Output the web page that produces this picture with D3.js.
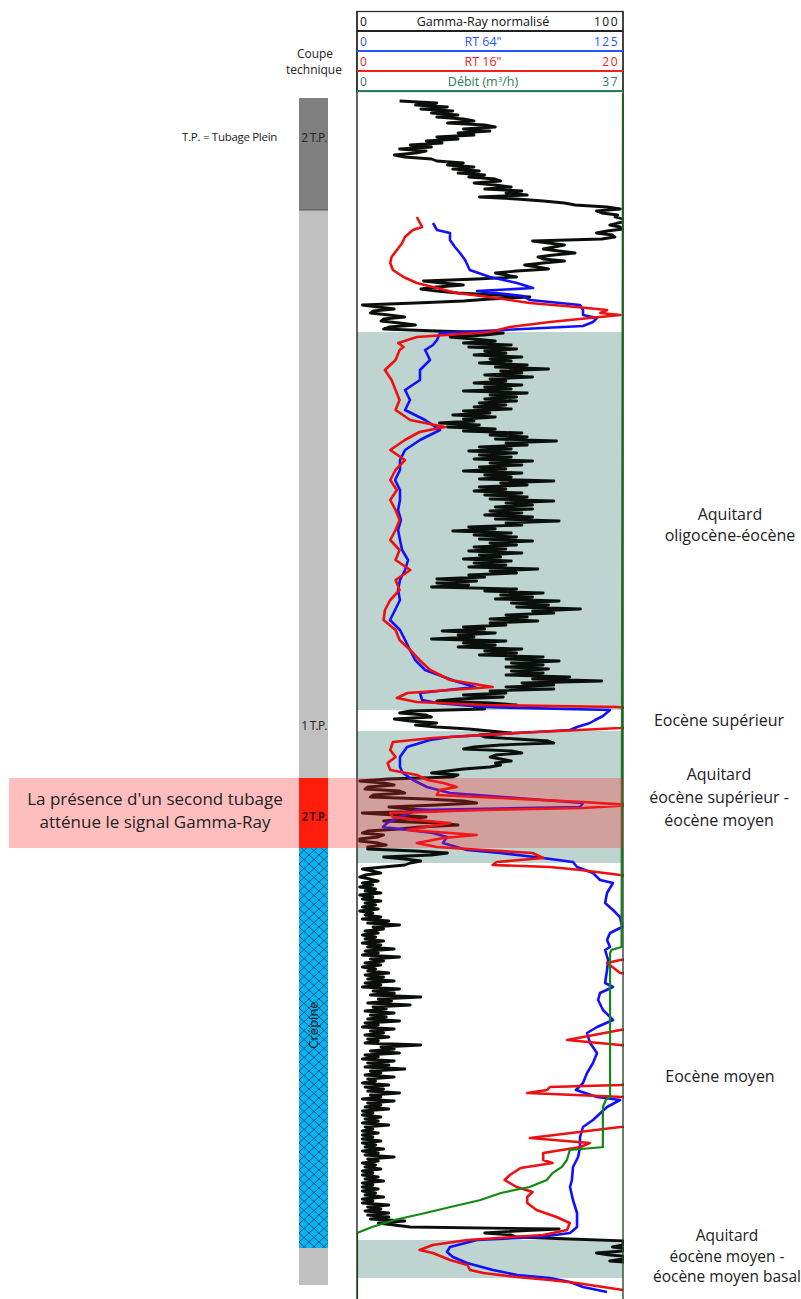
<!DOCTYPE html>
<html><head><meta charset="utf-8">
<script src="https://cdn.jsdelivr.net/npm/d3@7"></script>
<style>
body{margin:0;background:#fff}
svg{display:block}
text{font-family:"Open Sans",sans-serif}
</style>
</head><body>
<svg id="chart" width="801" height="1299"></svg>
<script>
// ---------------- DATA ----------------
const depthDomain = [0, 301.5];   // m

// log tracks (header)
const trackNames  = ["Gamma-Ray normalisé", "RT 64\"", "RT 16\"", "Débit (m³/h)"];
const trackMin    = [0, 0, 0, 0];
const trackMax    = [100, 125, 20, 37];
const trackColors = ["#111111", "#2855ff", "#ee2222", "#2c7a5c"];

// Gamma-Ray normalisé, sampled every 0.5 m from 2 m (rows = 5 m)
const grStartDepth = 2, grStep = 0.5;
const grValues = [
 16,30,22,34,24,36,28,38,30,40,   // 2
 44,34,48,52,40,50,38,44,30,38,   // 7
 26,32,20,28,16,26,22,14,18,28,   // 12
 30,40,34,44,36,46,38,48,42,52,   // 17
 54,44,52,58,48,62,56,64,46,60,   // 22
 70,78,82,94,99,90,92,98,97,100,  // 27
 102,98,95,99,100,94,90,96,97,92, // 32
 66,72,78,74,70,76,82,74,68,70,   // 37
 78,70,63,68,72,60,52,56,60,45,   // 42
 25,32,40,30,24,30,38,52,65,50,   // 47
 40,22,2,8,14,6,5,12,18,10,       // 52
 9,16,22,12,10,30,55,48,35,44,    // 57
 52,40,58,42,60,48,56,44,62,50,   // 62
 58,46,64,52,72,54,62,48,66,50,   // 67
 56,44,62,48,58,40,64,50,60,48,   // 72
 60,46,56,44,58,40,50,36,52,40,   // 77
 44,31,46,34,52,40,62,50,64,52,   // 82
 75,56,64,46,58,42,60,46,58,44,   // 87
 66,50,62,46,56,40,62,48,58,46,   // 92
 74,54,64,46,56,44,62,48,64,50,   // 97
 74,56,66,52,66,50,62,48,66,52,   // 102
 76,56,62,42,52,36,58,44,60,46,   // 107
 66,50,60,44,56,42,62,46,54,40,   // 112
 58,44,56,42,68,50,60,42,48,30,   // 117
 45,30,42,28,60,48,70,54,66,52,   // 122
 76,58,72,60,84,66,74,56,64,50,   // 127
 68,50,56,40,48,32,52,38,44,28,   // 132
 56,40,52,38,62,48,60,46,70,56,   // 137
 76,58,70,56,72,58,70,56,80,66,   // 142
 92,62,74,56,74,50,56,40,55,38,   // 147
 30,50,60,44,48,20,16,26,28,14,   // 152
 20,30,22,30,42,50,58,46,48,60,   // 157
 72,74,54,44,40,58,62,52,50,54,   // 162
 58,52,54,50,40,34,28,38,36,12,   // 167
 1,10,14,4,3,16,18,6,5,26,        // 172
 40,45,30,12,20,30,2,14,26,18,    // 177
 10,30,38,24,16,4,2,10,8,1,       // 182
 1,8,11,4,4,22,34,28,10,18,       // 187
 24,20,18,10,2,6,9,3,1,5,         // 192
 8,2,6,1,7,3,9,1,6,2,             // 197
 9,3,7,2,8,1,6,3,9,2,             // 202
 12,4,16,6,10,3,8,2,7,3,          // 207
 10,2,9,4,14,3,8,2,16,5,          // 212
 10,3,9,2,7,4,12,3,10,4,          // 217
 14,3,9,2,16,6,14,5,24,8,         // 222
 13,4,20,6,11,3,14,5,11,4,        // 227
 16,3,8,2,14,5,10,3,12,4,         // 232
 8,3,24,9,14,5,16,3,8,2,          // 237
 14,4,12,3,18,5,9,3,14,4,         // 242
 7,2,12,3,10,4,16,5,9,2,          // 247
 14,4,9,3,12,2,6,2,9,3,           // 252
 8,2,12,3,6,2,8,2,6,2,            // 257
 9,2,7,3,10,2,8,3,14,4,           // 262
 8,2,7,3,9,2,6,2,8,3,             // 267
 10,2,6,2,8,2,7,3,10,2,           // 272
 6,2,12,4,9,3,12,4,12,5,          // 277
 18,8,14,20,76,60,48,58,60,80,    // 282
 102,100,100,96,102,100,90,95,104,100, // 287
 95,105                           // 292
];

// RT 64" : [depth m, ohm.m]
const rt64 = [
 [32.5,35.7],[34.25,37.6],[35,43.7],[36.75,43.7],[38.5,46],[40,48.4],[41.75,50.8],[44.25,53],
 [46,62.5],[47.5,75.2],[48.75,82.7],[49.5,56.4],[50.75,78],[51.75,81.3],[53,104.8],[54.25,106.2],
 [55.5,106.2],[56.25,112.8],[57.25,110.9],[58.25,106.2],[59.25,68.6],[60,39],[61.75,37.6],[63,35.7],
 [64.25,32],[66.75,34.3],[69.25,29.6],[71.75,29.6],[74.25,22.6],[76.75,24.9],[79.25,22.6],[81.75,32],
 [84.25,39],[86.75,29.6],[89.25,22.6],[91.75,20.2],[94.25,20.2],[96.75,17.9],[99.25,20.2],[101.75,20.2],
 [104.25,19.3],[106.75,20.7],[109.25,19.3],[111.75,20.2],[114.25,21.2],[116.75,24],[119.25,22.6],[121.75,20.2],
 [124.25,19.3],[126.75,20.2],[129.25,17.9],[131.75,15.5],[134.25,20.2],[136.75,22.6],[139.25,24.9],[141.75,27.3],
 [144.25,32],[147,46],[148.5,55.5],[150,29.6],[151.75,30.6],[152.5,37.6],[153.5,59.2],[154.25,118.9],
 [155.75,115.6],[156.75,111.9],[157.5,109.5],[158.5,103.4],[159.25,100.1],[160,75.2],[161,43.7],[161.75,34.3],
 [163.5,23.5],[166,20.2],[168.5,20.2],[170,21.6],[171.75,26.3],[173.5,32.9],[175,43.7],[176.25,75.2],
 [177.5,106.2],[178.5,104.8],[179.25,28.2],[181,20.2],[182.5,14.1],[183.5,12.2],[185,35.7],[186,42.3],
 [187.5,40.4],[189.25,51.7],[190,67.2],[191.25,87.4],[192.25,101.5],[193.5,103.4],[195,110.9],[196.75,114.2],
 [197.5,120.3],[200,117.5],[202.5,116.6],[204.25,120.3],[206,123.6],[208.5,124.6],[210,118.9],[211.75,117.5],
 [213.5,118.9],[214.25,116.6],[216.75,118],[219.25,117.5],[222.5,116.6],[223.5,120.3],[225,114.2],[226.75,113.3],
 [229.25,115.6],[231.75,120.3],[233.5,112.8],[235,108.1],[237.5,109.5],[240,112.8],[242.5,110.9],[245,108.1],
 [247.5,106.2],[249.25,102.9],[251,112.8],[251.75,123.6],[253.5,117.5],[256.75,110.9],[258.5,106.2],[261,104.8],
 [263.5,104.8],[266,103.9],[268.5,101.5],[271.75,101],[273.5,100.1],[276.75,101.5],[280,103.4],[283.5,103.4],
 [285,100.1],[286,86],[286.75,56.4],[288.5,43.7],[289.75,42.3],[291,45.1],[292.5,51.7],[294.25,63.9],
 [295.5,75.2],[296.25,90.7],[297.25,100.1],[298.5,106.2],[299.75,117.5]
];

// RT 16" : [depth m, ohm.m]  (values above 20 run off the track)
const rt16 = [
 [31,4.5],[33.5,4.9],[34.25,4.2],[36,3.6],[37.5,3.4],[39.25,3.0],[41,2.6],[42.5,2.5],
 [44.25,2.7],[46,3.5],[47.5,4.5],[48.75,6.0],[50,7.5],[51.25,10.5],[52.5,13.0],[53.5,16.5],
 [54.25,18.8],[55,18.3],[55.5,19.8],[56.25,17.5],[57.25,14.5],[58.5,11.5],[59.75,10.0],[61,4.5],
 [62.5,3.1],[63.5,3.5],[64.25,3.2],[66.75,2.9],[69.25,2.1],[71.75,2.6],[74.25,2.9],[76.75,3.2],
 [79.25,2.9],[81.75,4.0],[83.5,6.6],[84.75,4.7],[86.75,3.6],[89.25,2.5],[91.75,3.6],[94.25,2.9],
 [96.75,2.5],[99.25,3.0],[101.75,2.5],[104.25,2.9],[106.75,3.2],[109.25,2.9],[111.75,2.5],[114.25,3.2],
 [116.75,2.9],[119.25,4.0],[121.75,2.9],[124.25,3.2],[126.75,2.5],[129.25,2.1],[131.75,2.0],[134.25,2.9],
 [136.75,3.2],[139.25,4.0],[141.75,4.7],[144.25,5.5],[146.75,7.0],[148.5,10.2],[150,3.8],[151.25,3.0],
 [152.25,4.5],[153,9.5],[153.5,19.6],[154.75,23],[158,23],[158.75,19.8],[160,12.0],[161.25,5.7],
 [162.25,2.7],[164.25,2.5],[166,2.9],[167.5,2.3],[169.25,2.5],[170.5,4.5],[171.75,5.3],[172.5,6.5],
 [173.5,7.5],[174.25,6.2],[175.5,6.0],[176.25,10.8],[177.25,17.0],[178,20.5],[178.75,17.0],[179.25,9.5],
 [180,2.5],[181,2.7],[181.75,4.5],[182.5,7.0],[184.25,3.8],[185,7.0],[185.5,9.0],[186.25,6.5],
 [187.5,4.5],[188.5,6.0],[189.25,9.5],[190,13.2],[191.25,14.0],[192.25,10.5],[193,10.2],[193.5,14.5],
 [194.25,16.8],[195.5,19.8],[196.75,24],[215.5,24],[216.75,19.8],[217.5,18.8],[218.5,19.2],[220,19.8],
 [221.25,24],[233,24],[234.25,19.8],[236.75,15.8],[238,19.8],[239.25,24],[246.75,24],[248,19.8],
 [248.5,14.5],[249.25,14.3],[250,12.8],[251,20.0],[251.75,24],[257.5,24],[258.5,19.8],[261.25,13.0],
 [262.5,17.5],[263.5,16.8],[265,14.0],[266.75,14.0],[267.5,14.7],[268.75,12.3],[270.5,11.5],[271.75,11.1],
 [273.5,12.0],[274.75,13.2],[276,12.8],[277.5,12.8],[279.25,13.5],[281,15.0],[282.5,16.0],[284.25,15.8],
 [285.5,14.0],[286.75,8.3],[288,5.7],[289.25,4.7],[290,5.7],[291.75,7.0],[293,8.3],[294.25,8.5],
 [295,9.5],[296,12.0],[296.75,14.5],[297.5,16.5],[298.5,18.5],[299.25,20.0]
];

// Débit (m3/h) : [depth m, m3/h]
const debit = [
 [0,37],[213.5,36.8],[214.25,35.4],[215,35.2],[251,35.2],[251.75,34.6],[253.5,34.2],[263.5,34.2],
 [263.75,32.8],[264.25,29.6],[266.75,29.2],[268.5,28.5],[270,27.2],[271.75,26.4],[273.5,24.0],[275,20.0],
 [276.75,17.2],[278.5,13.0],[280,9.5],[281.75,5.2],[283.5,2.1],[285,0],[301.5,0]
];

// hydrogeological units [top m, bottom m]
const aquitardTops    = [59.75, 159.5, 286.75];
const aquitardBottoms = [154.25, 192.5, 296.25];

// unit labels
const unitLabels = [
 ["Aquitard", "oligocène-éocène"],
 ["Eocène supérieur"],
 ["Aquitard", "éocène supérieur -", "éocène moyen"],
 ["Eocène moyen"],
 ["Aquitard", "éocène moyen -", "éocène moyen basal"]
];
const unitLabelDepths = [108, 156.75, 176, 245.75, 290.75];

// coupe technique (well completion)
const casingTops    = [1.25, 29.25, 171.25, 188.75, 288.75];
const casingBottoms = [29.25, 171.25, 188.75, 288.75, 298];
const casingKinds   = ["tp2", "tp1", "tp2red", "crepine", "tp1"];
const casingLabels  = ["2 T.P.", "1 T.P.", "2 T.P.", "Crépine", ""];
const casingLabelDepths = [11, 158, 180.8, 233, 0];

// annotated interval (second casing)
const noteTop = 171.25, noteBottom = 188.75;
const noteLines = ["La présence d'un second tubage", "atténue le signal Gamma-Ray"];

// ---------------- DRAWING ----------------
const svg = d3.select("#chart");
const trackL = 357, trackR = 623, trackTop = 93, H = 1299;
const y = d3.scaleLinear().domain(depthDomain).range([trackTop, H]);
const xs = trackMax.map((m, i) => d3.scaleLinear().domain([trackMin[i], m]).range([trackL, trackR]));

const defs = svg.append("defs");
defs.append("clipPath").attr("id", "trk").append("rect")
  .attr("x", trackL).attr("y", trackTop).attr("width", trackR - trackL + 1).attr("height", H - trackTop);
const pat = defs.append("pattern").attr("id", "hatch").attr("patternUnits", "userSpaceOnUse")
  .attr("width", 10).attr("height", 9).attr("x", 299).attr("y", 0);
pat.append("rect").attr("width", 10).attr("height", 9).attr("fill", "#0ab4f2");
pat.append("path").attr("d", "M0,0L10,9M10,0L0,9").attr("stroke", "#1c3d66").attr("stroke-width", 0.8);

// aquitard zones
svg.append("g").selectAll("rect").data(aquitardTops).join("rect")
  .attr("x", trackL).attr("width", trackR - trackL)
  .attr("y", d => y(d)).attr("height", (d, i) => y(aquitardBottoms[i]) - y(d))
  .attr("fill", "#bdd4d0");

// coupe technique column
const colX = 299, colW = 29;
const kindFill = {tp2: "#808080", tp1: "#c0c0c0", tp2red: "#ff1a00", crepine: "url(#hatch)"};
const cg = svg.append("g");
cg.selectAll("rect").data(casingTops).join("rect")
  .attr("x", colX).attr("width", colW)
  .attr("y", d => y(d)).attr("height", (d, i) => y(casingBottoms[i]) - y(d))
  .attr("fill", (d, i) => kindFill[casingKinds[i]]);
cg.append("line").attr("x1", colX).attr("x2", colX + colW).attr("y1", y(casingBottoms[0])).attr("y2", y(casingBottoms[0]))
  .attr("stroke", "#444").attr("stroke-width", 0.8);
casingLabels.forEach((t, i) => {
  if (!t) return;
  const cx = colX + colW / 2, cy = y(casingLabelDepths[i]);
  const tx = cg.append("text").text(t).attr("text-anchor", "middle").attr("font-size", 12)
    .attr("fill", "#222").attr("letter-spacing", "-0.8");
  if (casingKinds[i] === "crepine") {
    tx.attr("transform", `translate(${cx + 4},${cy}) rotate(-90)`).attr("font-size", 13).attr("letter-spacing", 0);
  } else {
    tx.attr("x", cx + 0.5).attr("y", cy + 4.5);
    if (casingKinds[i] === "tp2red") tx.attr("font-weight", "bold").attr("fill", "#000").attr("font-size", 11.5);
  }
});

// curves
const cl = svg.append("g").attr("clip-path", "url(#trk)");
const line = (sx) => d3.line().x(d => sx(d[1])).y(d => y(d[0]));
const grData = grValues.map((v, i) => [grStartDepth + i * grStep, v]);
cl.append("path").datum(grData).attr("d", line(xs[0])).attr("fill", "none")
  .attr("stroke", "#0b0f0b").attr("stroke-width", 2.8).attr("stroke-linejoin", "round");
cl.append("path").datum(rt64).attr("d", line(xs[1])).attr("fill", "none")
  .attr("stroke", "#1010ff").attr("stroke-width", 2.6).attr("stroke-linejoin", "round");
cl.append("path").datum(rt16).attr("d", line(xs[2])).attr("fill", "none")
  .attr("stroke", "#ee1010").attr("stroke-width", 2.6).attr("stroke-linejoin", "round");
cl.append("path").datum(debit).attr("d", line(xs[3])).attr("fill", "none")
  .attr("stroke", "#108a10").attr("stroke-width", 2.2);

// track borders
svg.append("line").attr("x1", trackL).attr("x2", trackL).attr("y1", 11).attr("y2", H).attr("stroke", "#222").attr("stroke-width", 1.4);
svg.append("line").attr("x1", trackR).attr("x2", trackR).attr("y1", 11).attr("y2", H).attr("stroke", "#2b4a30").attr("stroke-width", 1.4);

// header
const hg = svg.append("g");
hg.append("rect").attr("x", trackL).attr("y", 11.5).attr("width", trackR - trackL).attr("height", 80)
  .attr("fill", "none").attr("stroke", "#222").attr("stroke-width", 1.2);
const rowLineColors = ["#222", "#2855ff", "#ee2222", "#2c7a5c"];
trackNames.forEach((n, i) => {
  const top = 11 + i * 20;
  hg.append("line").attr("x1", trackL).attr("x2", trackR).attr("y1", top + 20).attr("y2", top + 20)
    .attr("stroke", rowLineColors[i]).attr("stroke-width", 2);
  const col = trackColors[i];
  const t = hg.append("text").attr("x", 483).attr("y", top + 14.5).attr("text-anchor", "middle")
    .attr("font-size", 12.5).attr("fill", col);
  if (i === 3) {
    t.text("Débit (m");
    t.append("tspan").attr("font-size", 8).attr("dy", -4).text("3");
    t.append("tspan").attr("dy", 4).text("/h)");
  } else t.text(n);
  hg.append("text").attr("x", trackL + 3).attr("y", top + 15).attr("font-size", 12).attr("fill", col).text(trackMin[i]);
  hg.append("text").attr("x", trackR - 4).attr("y", top + 15).attr("font-size", 12).attr("fill", col)
    .attr("text-anchor", "end").attr("letter-spacing", "1.5").text(trackMax[i]);
});
hg.append("text").attr("x", 315).attr("y", 58).attr("text-anchor", "middle").attr("font-size", 12).attr("fill", "#222").text("Coupe");
hg.append("text").attr("x", 314).attr("y", 74).attr("text-anchor", "middle").attr("font-size", 12).attr("fill", "#222").text("technique");
svg.append("text").attr("x", 277).attr("y", 141).attr("text-anchor", "end").attr("font-size", 11.5)
  .attr("fill", "#222").attr("letter-spacing", "-0.3").text("T.P. = Tubage Plein");

// unit labels
const lg = svg.append("g");
const labelX = [730, 719, 719, 720, 727];
const labelLH = [21.5, 23, 23, 23, 20.5];
unitLabels.forEach((lines, i) => {
  const cy = y(unitLabelDepths[i]);
  const t = lg.append("text").attr("text-anchor", "middle").attr("font-size", i === 4 ? 15.5 : 16).attr("fill", "#222");
  lines.forEach((s, k) => {
    t.append("tspan").attr("x", labelX[i])
      .attr("y", cy + (k - (lines.length - 1) / 2) * labelLH[i] + 5.5).text(s);
  });
});

// second-casing note band (drawn on top)
svg.append("rect").attr("x", 9).attr("width", trackR - 9).attr("y", y(noteTop)).attr("height", y(noteBottom) - y(noteTop))
  .attr("fill", "rgb(255,40,40)").attr("fill-opacity", 0.3);
const nt = svg.append("text").attr("text-anchor", "middle").attr("font-size", 17).attr("fill", "#222");
noteLines.forEach((s, k) => nt.append("tspan").attr("x", 155).attr("y", y(noteTop) + 27 + k * 23).text(s));
</script>
</body></html>
